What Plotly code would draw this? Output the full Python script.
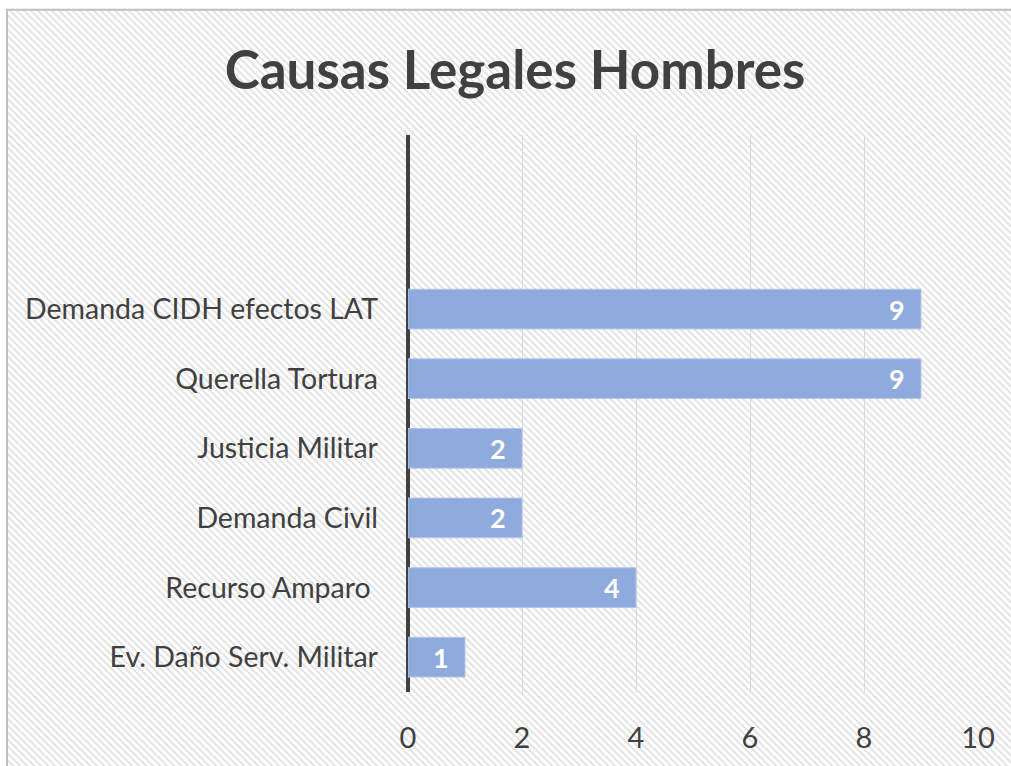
import base64
import plotly.graph_objects as go

# Data (bottom to top)
categories = ["Ev. Daño Serv. Militar", "Recurso Amparo\u00a0", "Demanda Civil",
              "Justicia Militar", "Querella Tortura", "Demanda CIDH efectos LAT"]
values = [1, 4, 2, 2, 9, 9]
x_ticks = [0, 2, 4, 6, 8, 10]
title_text = "Causas Legales Hombres"

W, H = 1011, 766
L, R, T, B = 408, 33, 135, 71
pw, ph = W - L - R, H - T - B

FONT = "Lato"
TXT = "#404040"

fig = go.Figure()
fig.add_trace(go.Bar(
    x=values, y=categories, orientation="h",
    marker=dict(color="#8FAADC", line=dict(color="#B4C7E7", width=1)),
    width=0.57, hoverinfo="skip",
))

for v, c in zip(values, categories):
    fig.add_annotation(x=v, y=c, text=f"<b>{v}</b>", showarrow=False,
                       xanchor="right", xshift=-14, yshift=0,
                       font=dict(family=FONT, size=27, color="white"))

# decorative background (hatched chart area with top/left border)
BW, BH = W + 40, H + 40
svg = (
    f"<svg xmlns='http://www.w3.org/2000/svg' width='{BW}' height='{BH}'>"
    "<defs><pattern id='p' width='7' height='7' patternUnits='userSpaceOnUse'>"
    "<path d='M-1,-1L8,8M-1,6L1,8M6,-1L8,1' stroke='#e0e0e0' stroke-width='1.8'/>"
    "</pattern></defs>"
    f"<rect x='7' y='9' width='{BW}' height='{BH}' fill='url(#p)'/>"
    f"<path d='M7,{BH}L7,9L{BW},9' fill='none' stroke='#c0c0c0' stroke-width='2'/>"
    "</svg>"
)
src = "data:image/svg+xml;base64," + base64.b64encode(svg.encode()).decode()

fig.update_layout(
    width=W, height=H,
    margin=dict(l=L, r=R, t=T, b=B, pad=0),
    paper_bgcolor="white", plot_bgcolor="rgba(0,0,0,0)",
    showlegend=False,
    title=dict(text=f"<b>{title_text}</b>", x=515 / W, xref="container", xanchor="center",
               y=1 - 70 / H, yref="container", yanchor="middle",
               font=dict(family=FONT, size=53, color=TXT)),
    images=[dict(source=src, xref="paper", yref="paper",
                 x=-L / pw, y=(H - B) / ph, sizex=BW / pw, sizey=BH / ph,
                 xanchor="left", yanchor="top", sizing="stretch", layer="below")],
    xaxis=dict(range=[0, 10], tickvals=x_ticks, showgrid=True, gridcolor="#D9D9D9", gridwidth=1,
               zeroline=True, zerolinecolor="#404040", zerolinewidth=3.5,
               showline=False, ticks="", ticklabelstandoff=26,
               tickfont=dict(family=FONT, size=29, color=TXT)),
    yaxis=dict(type="category", range=[-0.5, 7.5], showgrid=False, zeroline=False,
               showline=False, ticks="", ticklabelstandoff=29,
               tickfont=dict(family=FONT, size=28.5, color=TXT)),
    font=dict(family=FONT, color=TXT),
)

fig.write_html("out.html", config={"displayModeBar": False},
               post_script="document.body.style.margin='0';document.body.style.overflow='hidden';")
